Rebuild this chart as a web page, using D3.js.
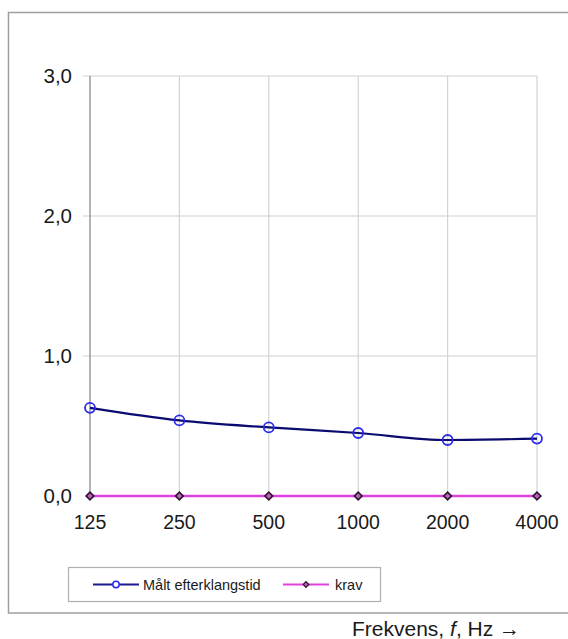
<!DOCTYPE html>
<html>
<head>
<meta charset="utf-8">
<script src="https://cdn.jsdelivr.net/npm/d3@7"></script>
<style>
  html, body { margin: 0; padding: 0; background: #fff; }
  svg { display: block; }
  text { font-family: Arial, "Liberation Sans", sans-serif; fill: #1a1a1a; }
</style>
</head>
<body>
<svg id="chart" width="568" height="639"></svg>
<script>
const categories = ["125", "250", "500", "1000", "2000", "4000"];
const measured = [0.63, 0.54, 0.49, 0.45, 0.40, 0.41];
const requirement = [0, 0, 0, 0, 0, 0];
const yTicks = [0, 1, 2, 3];
const yTickLabels = ["0,0", "1,0", "2,0", "3,0"];
const seriesNames = ["Målt efterklangstid", "krav"];
const xTitle = "Frekvens, ";
const xTitleItalic = "f";
const xTitleEnd = ", Hz \u2192";

const svg = d3.select("#chart");

// outer frame (extends past the right edge)
svg.append("rect")
  .attr("x", 8.5).attr("y", 12.5).attr("width", 600).attr("height", 600.5)
  .attr("fill", "none").attr("stroke", "#a0a0a0").attr("stroke-width", 1.5);

const plotL = 90, plotR = 537, plotT = 76, plotB = 496;

const x = d3.scalePoint().domain(categories).range([plotL, plotR]);
const y = d3.scaleLinear().domain([0, 3]).range([plotB, plotT]);

// vertical gridlines
svg.append("g").selectAll("line").data(categories.slice(1)).join("line")
  .attr("x1", d => x(d)).attr("x2", d => x(d))
  .attr("y1", plotT).attr("y2", plotB)
  .attr("stroke", "#d4d4d4").attr("stroke-width", 1.2);

// horizontal gridlines + ticks
svg.append("g").selectAll("line").data(yTicks.slice(1)).join("line")
  .attr("x1", plotL - 7).attr("x2", plotR)
  .attr("y1", d => y(d)).attr("y2", d => y(d))
  .attr("stroke", "#cfcfcf").attr("stroke-width", 1.2);

// left axis line
svg.append("line")
  .attr("x1", plotL).attr("x2", plotL).attr("y1", plotT).attr("y2", plotB)
  .attr("stroke", "#9a9a9a").attr("stroke-width", 1.5);

// y tick labels
svg.append("g").selectAll("text").data(yTicks).join("text")
  .attr("x", 72).attr("y", d => y(d) + 7)
  .attr("text-anchor", "end")
  .attr("font-size", 20.5)
  .text((d, i) => yTickLabels[i]);

// x tick labels
svg.append("g").selectAll("text").data(categories).join("text")
  .attr("x", d => x(d)).attr("y", 529)
  .attr("text-anchor", "middle")
  .attr("font-size", 19.5)
  .text(d => d);

// requirement line
const line = d3.line().x((d, i) => x(categories[i])).y(d => y(d));
svg.append("path").datum(requirement)
  .attr("d", line).attr("fill", "none")
  .attr("stroke", "#e040e0").attr("stroke-width", 2.5);

const diamond = d3.symbol().type(d3.symbolSquare).size(30);
svg.append("g").selectAll("path").data(requirement).join("path")
  .attr("d", diamond)
  .attr("transform", (d, i) => `translate(${x(categories[i])},${y(d)}) rotate(45)`)
  .attr("fill", "#b860b8").attr("stroke", "#2e122e").attr("stroke-width", 1.6);

// measured line
const curve = d3.line().x((d, i) => x(categories[i])).y(d => y(d)).curve(d3.curveMonotoneX);
svg.append("path").datum(measured)
  .attr("d", curve).attr("fill", "none")
  .attr("stroke", "#0a0a70").attr("stroke-width", 2.2);

svg.append("g").selectAll("circle").data(measured).join("circle")
  .attr("cx", (d, i) => x(categories[i])).attr("cy", d => y(d))
  .attr("r", 5)
  .attr("fill", "none").attr("stroke", "#2a2aee").attr("stroke-width", 1.8);

// legend
svg.append("rect")
  .attr("x", 68.5).attr("y", 567.5).attr("width", 312).attr("height", 34)
  .attr("fill", "#fff").attr("stroke", "#b0b0b0").attr("stroke-width", 1.2);

const ly = 584.5;
svg.append("line").attr("x1", 93).attr("x2", 139).attr("y1", ly).attr("y2", ly)
  .attr("stroke", "#1a1a90").attr("stroke-width", 2);
svg.append("circle").attr("cx", 116).attr("cy", ly).attr("r", 3.2)
  .attr("fill", "#fff").attr("stroke", "#2a2aee").attr("stroke-width", 1.5);
svg.append("text").attr("x", 143).attr("y", ly + 5)
  .attr("font-size", 14.5).text(seriesNames[0]);

svg.append("line").attr("x1", 283).attr("x2", 329).attr("y1", ly).attr("y2", ly)
  .attr("stroke", "#e040e0").attr("stroke-width", 2);
svg.append("path").attr("d", d3.symbol().type(d3.symbolSquare).size(16))
  .attr("transform", `translate(306,${ly}) rotate(45)`)
  .attr("fill", "#b860b8").attr("stroke", "#2e122e").attr("stroke-width", 1.2);
svg.append("text").attr("x", 335).attr("y", ly + 5)
  .attr("font-size", 14.5).text(seriesNames[1]);

// axis title
const t = svg.append("text").attr("x", 352).attr("y", 636).attr("font-size", 21);
t.append("tspan").text(xTitle);
t.append("tspan").attr("font-style", "italic").text(xTitleItalic);
t.append("tspan").text(xTitleEnd);
</script>
</body>
</html>
